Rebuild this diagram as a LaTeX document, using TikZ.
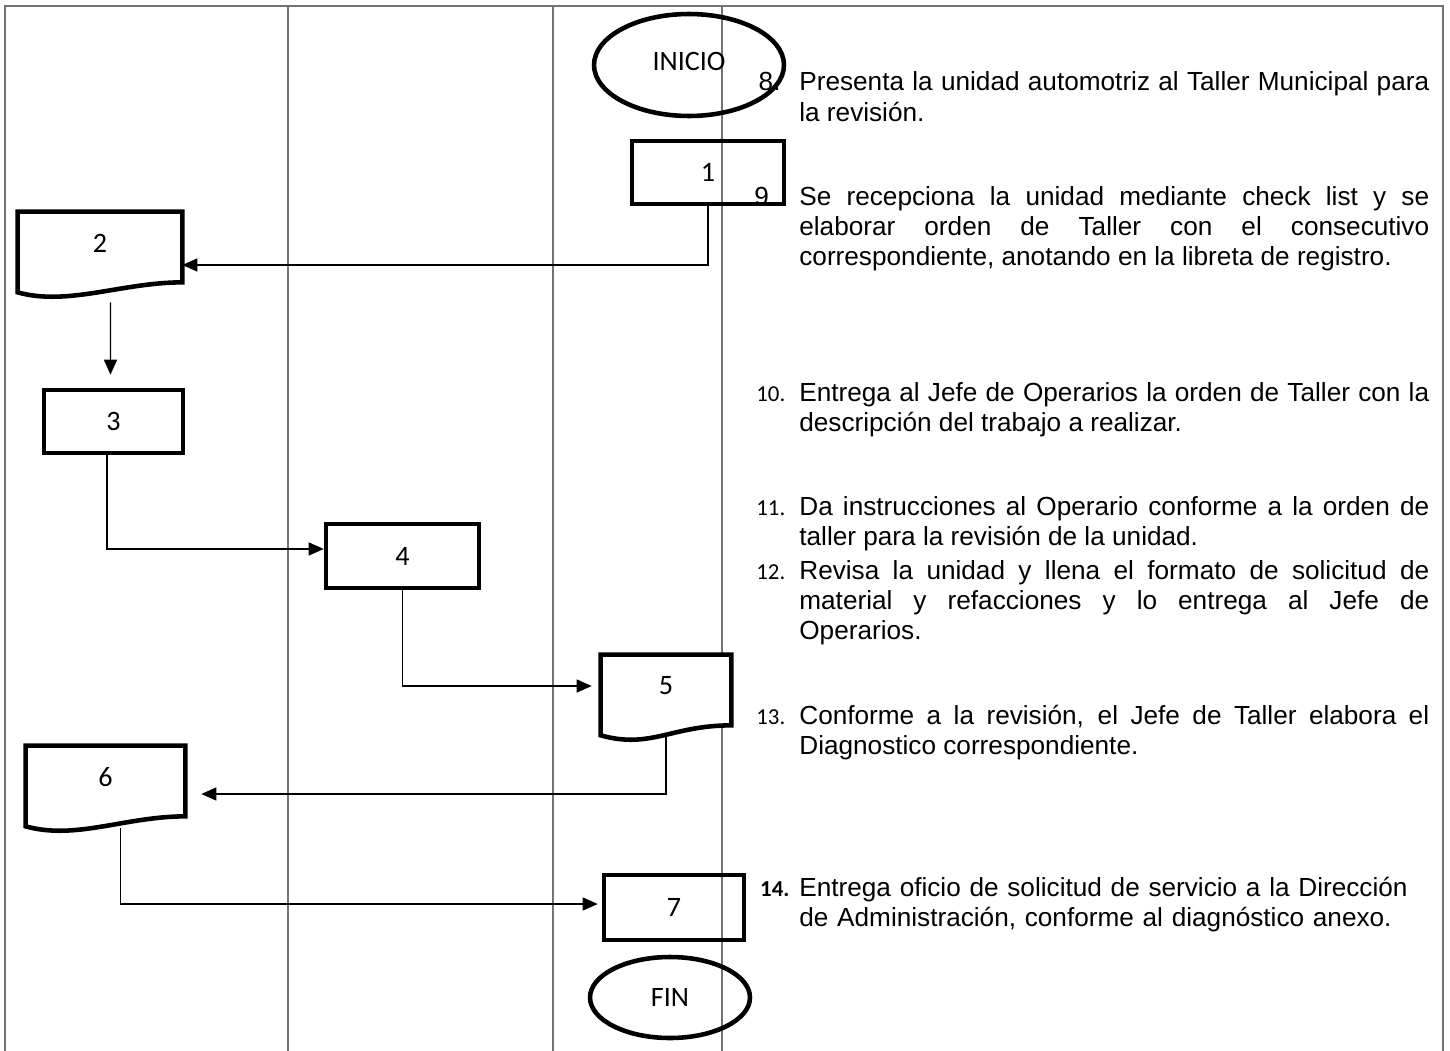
\documentclass[tikz,border=0pt]{standalone}
\usepackage{fontspec}
\setmainfont{Liberation Sans}
\newfontfamily\carlito{Carlito}
\usetikzlibrary{shapes.geometric,arrows.meta,calc}
\tolerance=9999 \hbadness=10000

\pgfdeclarelayer{fondo}
\pgfdeclarelayer{hojas}
\pgfsetlayers{fondo,hojas,main}

\newcommand{\cajafont}{\carlito\fontsize{16}{19}\selectfont}
\newcommand{\pasofont}{\fontsize{14.9}{17.1}\selectfont}
\newcommand{\nro}[1]{\llap{\makebox[0.86cm][l]{\carlito\fontsize{13}{15}\selectfont #1}}}
\newcommand{\nrob}[1]{\llap{\makebox[0.9cm][l]{#1}}}

% documento con borde inferior ondulado
\newcommand{\hoja}[1]{%
  \begin{pgfonlayer}{hojas}
    \draw[line width=2.6pt, fill=white] ($(#1.south east)+(0,8)$) -- (#1.north east) -- (#1.north west)
      -- ($(#1.south west)+(0,18)$)
      .. controls ($(#1.south west)+(50,32)$) and ($(#1.south east)+(-60,8)$) .. ($(#1.south east)+(0,8)$) -- cycle;
  \end{pgfonlayer}}

\tikzset{
  caja/.style={draw, line width=2.6pt},
  term/.style={ellipse, draw, line width=2.6pt},
  flecha/.style={-{Triangle[length=0.3cm,width=0.26cm]}, line width=0.8pt},
  paso/.style={anchor=base west, text width=12.6cm, align=justify, font=\pasofont, inner sep=0pt},
}

\begin{document}
\begin{tikzpicture}[x=0.02cm, y=-0.02cm]
  \useasboundingbox (0,0) rectangle (1450,1051);

  % carriles
  \begin{pgfonlayer}{fondo}
    \begin{scope}[black!55, line width=0.6pt]
      \draw (5,1051) -- (5,6) -- (1443,6) -- (1443,1051);
      \foreach \x in {288,553,722}
        \draw (\x,6) -- (\x,1051);
    \end{scope}
  \end{pgfonlayer}

  \begin{scope}[every node/.style={inner sep=0pt, font=\cajafont}]
    \node[term, minimum width=3.8cm, minimum height=2.04cm] (inicio) at (689,65) {\raisebox{0.14cm}{INICIO}};
    \node[caja, minimum width=3.04cm, minimum height=1.26cm] (1) at (708,172.5) {1};
    \node[minimum width=3.28cm, minimum height=1.24cm] (2) at (100,243) {2};
    \node[caja, minimum width=2.78cm, minimum height=1.26cm] (3) at (113.5,421.5) {3};
    \node[caja, minimum width=3.06cm, minimum height=1.28cm] (4) at (402.5,556) {4};
    \node[minimum width=2.6cm, minimum height=1.24cm] (5) at (666,686) {5};
    \node[minimum width=3.18cm, minimum height=1.24cm] (6) at (105.5,777) {6};
    \node[caja, minimum width=2.8cm, minimum height=1.3cm] (7) at (674,907.5) {7};
    \node[term, minimum width=3.2cm, minimum height=1.62cm] (fin) at (670,997.5) {FIN};
  \end{scope}

  \hoja{2}
  \hoja{5}
  \hoja{6}

  % conectores
  \begin{scope}[every path/.style={flecha}]
    \draw (1.south) |- ([yshift=-0.44cm]2.east);
    \draw ($(2.south -| 3.north)+(-3,28)$) -- ([xshift=-0.06cm,yshift=0.26cm]3.north);
    \draw ([xshift=-0.13cm]3.south) |- ([yshift=0.14cm]4.west);
    \draw (4.south) |- ([xshift=-0.18cm]5.west);
    \draw ([yshift=-0.36cm]5.south) |- ([xshift=0.32cm,yshift=-0.34cm]6.east);
    \draw ([xshift=0.3cm,yshift=-0.4cm]6.south) |- ([xshift=-0.08cm,yshift=0.07cm]7.west);
  \end{scope}

  % descripcion de los pasos
  \node[paso] (p8) at (799,91) {\nrob{\,8.}Presenta la unidad automotriz al Taller Municipal para\linebreak la revisión.};
  \node[paso] (p9) at (799,205) {\nrob{9.}Se recepciona la unidad mediante check list y se\linebreak elaborar orden de Taller con el consecutivo\linebreak correspondiente, anotando en la libreta de registro.};
  \node[paso] (p10) at (799,401) {\nro{10.}Entrega al Jefe de Operarios la orden de Taller con la\linebreak descripción del trabajo a realizar.};
  \node[paso] (p11) at (799,515) {\nro{11.}Da instrucciones al Operario conforme a la orden de\linebreak taller para la revisión de la unidad.};
  \node[paso] (p12) at (799,579) {\nro{12.}Revisa la unidad y llena el formato de solicitud de\linebreak material y refacciones y lo entrega al Jefe de\linebreak Operarios.};
  \node[paso] (p13) at (799,724) {\nro{13.}Conforme a la revisión, el Jefe de Taller elabora el\linebreak Diagnostico correspondiente.};
  \node[paso, align=left] (p14) at (799,896) {\nro{\,\bfseries 14.}Entrega oficio de solicitud de servicio a la Dirección\\de Administración, conforme al diagnóstico anexo.};

\end{tikzpicture}
\end{document}
